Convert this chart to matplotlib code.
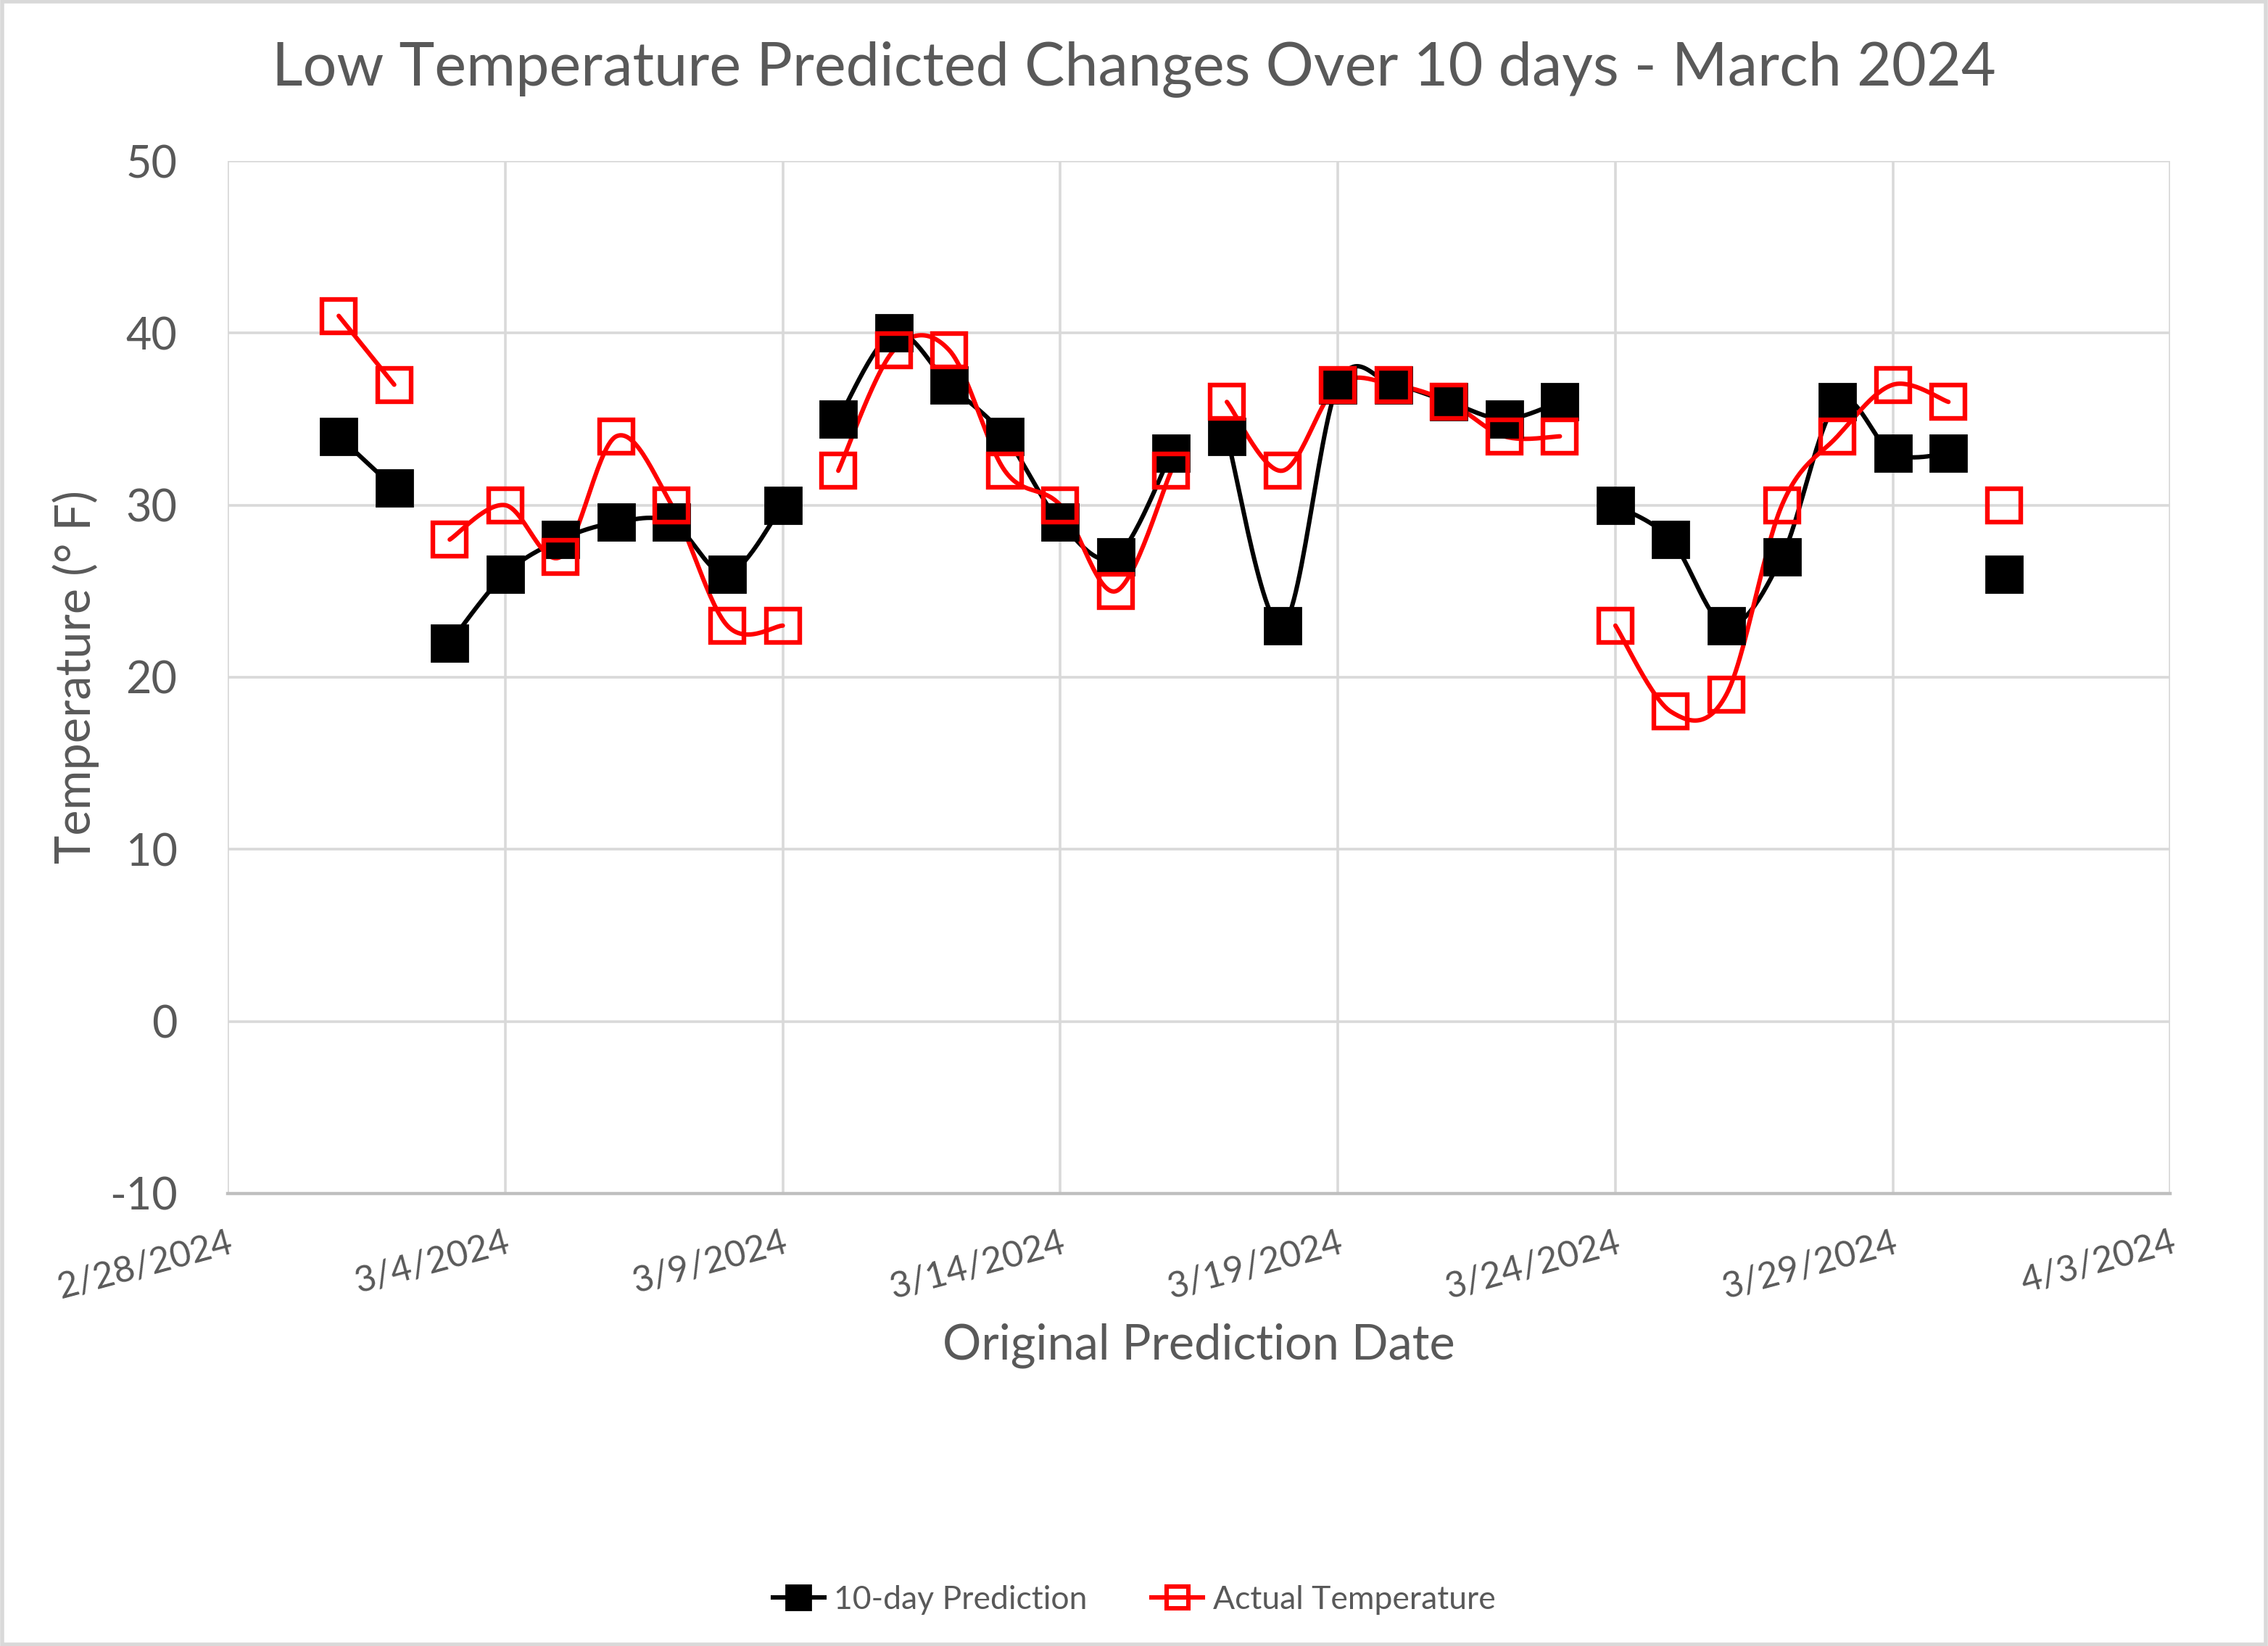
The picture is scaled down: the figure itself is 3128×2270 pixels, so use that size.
import datetime as dt
import numpy as np
import matplotlib
matplotlib.use("Agg")
import matplotlib.pyplot as plt
import matplotlib.dates as mdates
from matplotlib.lines import Line2D
from matplotlib.patches import Rectangle

plt.rcParams['font.family'] = ['Lato', 'DejaVu Sans']
plt.rcParams['axes.unicode_minus'] = False

# data: one value per day, 3/1 .. 3/31
days = [dt.date(2024, 3, d) for d in range(1, 32)]
prediction = [34, 31,
              22, 26, 28, 29, 29, 26, 30,
              35, 40, 37, 34, 29, 27, 33,
              34, 23, 37, 37, 36, 35, 36,
              30, 28, 23, 27, 36, 33, 33,
              26]
actual = [41, 37,
          28, 30, 27, 34, 30, 23, 23,
          32, 39, 39, 32, 30, 25, 32,
          36, 32, 37, 37, 36, 34, 34,
          23, 18, 19, 30, 34, 37, 36,
          30]
# lines are broken between groups (separate weeks in the sheet)
group = [0] * 2 + [1] * 7 + [2] * 7 + [3] * 7 + [4] * 7 + [5] * 1

text_col = '#595959'
grid_col = '#d9d9d9'


# Excel style smoothed line (catmull-rom / bezier with 1/6 tangents)
def smooth(x, y, n=30):
    x = np.asarray(x, float)
    y = np.asarray(y, float)
    if len(x) < 3:
        return x, y
    px = np.concatenate([[x[0]], x, [x[-1]]])
    py = np.concatenate([[y[0]], y, [y[-1]]])
    xs, ys = [], []
    t = np.linspace(0, 1, n)
    for i in range(1, len(px) - 2):
        c1x = px[i] + (px[i + 1] - px[i - 1]) / 6
        c1y = py[i] + (py[i + 1] - py[i - 1]) / 6
        c2x = px[i + 1] - (px[i + 2] - px[i]) / 6
        c2y = py[i + 1] - (py[i + 2] - py[i]) / 6
        bx = (1 - t) ** 3 * px[i] + 3 * (1 - t) ** 2 * t * c1x + 3 * (1 - t) * t ** 2 * c2x + t ** 3 * px[i + 1]
        by = (1 - t) ** 3 * py[i] + 3 * (1 - t) ** 2 * t * c1y + 3 * (1 - t) * t ** 2 * c2y + t ** 3 * py[i + 1]
        xs.append(bx)
        ys.append(by)
    return np.concatenate(xs), np.concatenate(ys)


fig = plt.figure(figsize=(15.64, 11.35), dpi=200)
ax = fig.add_axes([0.1004, 0.2749, 0.8566, 0.6273])

xnum = mdates.date2num(days)
g = np.array(group)


def draw(vals, color, face, ms, mew):
    vals = np.array(vals)
    for k in np.unique(g):
        m = g == k
        sx, sy = smooth(xnum[m], vals[m])
        ax.plot(sx, sy, color=color, lw=2.2, solid_capstyle='round', zorder=3)
        ax.plot(xnum[m], vals[m], ls='none', marker='s', ms=ms, mfc=face,
                mec=color, mew=mew, zorder=4)


draw(prediction, 'black', 'black', 18, 1)
draw(actual, '#ff0000', 'none', 16.5, 2.3)

ax.set_ylim(-10, 50)
ax.set_yticks(range(-10, 51, 10))
x0 = mdates.date2num(dt.date(2024, 2, 28))
x1 = mdates.date2num(dt.date(2024, 4, 3))
ax.set_xlim(x0, x1)
ax.set_xticks(np.arange(x0, x1 + 0.1, 5))
ax.xaxis.set_major_formatter(plt.FuncFormatter(
    lambda v, p: '{d.month}/{d.day}/{d.year}'.format(d=mdates.num2date(v))))

ax.grid(True, color=grid_col, lw=1.3)
ax.set_axisbelow(True)
for s in ['top', 'right', 'left']:
    ax.spines[s].set_visible(False)
ax.spines['bottom'].set_color('#bfbfbf')
ax.spines['bottom'].set_linewidth(1.6)
ax.tick_params(axis='both', length=0, colors=text_col)
ax.tick_params(axis='y', labelsize=22, pad=25)
ax.tick_params(axis='x', labelsize=18, pad=16)
for lab in ax.get_xticklabels():
    lab.set_rotation(15)
    lab.set_ha('right')
    lab.set_rotation_mode('anchor')

fig.text(0.5, 0.958, 'Low Temperature Predicted Changes Over 10 days - March 2024',
         fontsize=29.8, color=text_col, ha='center', va='center')
ax.set_xlabel('Original Prediction Date', fontsize=24, color=text_col, labelpad=9)
ax.set_ylabel('Temperature (° F)', fontsize=24, color=text_col, labelpad=5)

handles = [
    Line2D([], [], color='black', lw=2.2, marker='s', ms=12, mfc='black', mec='black'),
    Line2D([], [], color='#ff0000', lw=2.2, marker='s', ms=11, mfc='none', mec='#ff0000', mew=2.2),
]
fig.legend(handles, ['10-day Prediction', 'Actual Temperature'], loc='center',
           bbox_to_anchor=(0.5, 0.028), ncol=2, frameon=False, fontsize=16,
           labelcolor=text_col, handlelength=1.6, handletextpad=0.3, columnspacing=2)

fig.patches.append(Rectangle((0.001, 0.001), 0.998, 0.998, transform=fig.transFigure,
                             fill=False, ec=grid_col, lw=2))

fig.savefig('out.png', dpi=200, facecolor='white')
